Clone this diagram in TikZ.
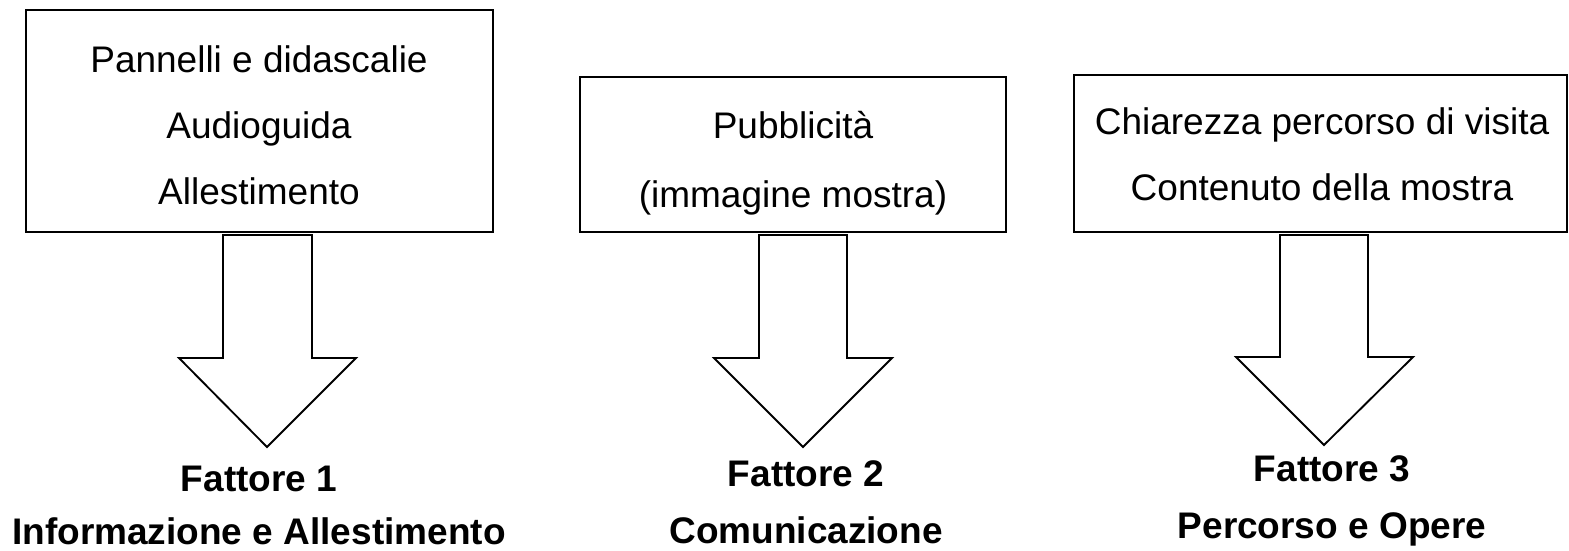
\documentclass[tikz,border=0pt]{standalone}
\usepackage{fontspec}
\setmainfont{Liberation Sans}
\usetikzlibrary{fit}
\tikzset{
  box/.style={draw=black, line width=1.4pt, inner sep=0pt},
  txt/.style={font=\fontsize{27.75}{33}\selectfont, anchor=base, inner sep=0pt},
  lbl/.style={font=\fontsize{27.75}{33}\selectfont\bfseries, anchor=base, inner sep=0pt},
  barrow/.style={draw=black, line width=1.4pt, fill=white, line join=miter}
}
\begin{document}
\begin{tikzpicture}[x=0.75pt, y=-0.75pt]
\useasboundingbox (0,0) rectangle (1569,550);
% boxes
\node[box, fit={(26,10) (493,232)}] (b1) {};
\node[box, fit={(580,77) (1006,232)}] (b2) {};
\node[box, fit={(1074,75) (1567,232)}] (b3) {};
% box texts
\node[txt] (t11) at (259,72) {Pannelli e didascalie};
\node[txt] (t12) at (259,138) {Audioguida};
\node[txt] (t13) at (259,204) {Allestimento};
\node[txt] (t21) at (793,138) {Pubblicità};
\node[txt] (t22) at (793,207) {(immagine mostra)};
\node[txt] (t31) at (1322,134) {Chiarezza percorso di visita};
\node[txt] (t32) at (1322,200) {Contenuto della mostra};
% block arrows
\draw[barrow] (223,235) -- (223,358) -- (179,358) -- (267,447) -- (356,358) -- (312,358) -- (312,235) -- cycle;
\draw[barrow] (759,235) -- (759,358) -- (714,358) -- (803,447) -- (892,358) -- (847,358) -- (847,235) -- cycle;
\draw[barrow] (1280,235) -- (1280,357) -- (1236,357) -- (1324,445) -- (1413,357) -- (1368,357) -- (1368,235) -- cycle;
% factor labels
\node[lbl] (f1) at (259,491) {Fattore 1};
\node[lbl] (g1) at (259,544) {Informazione e Allestimento};
\node[lbl] (f2) at (806,486) {Fattore 2};
\node[lbl] (g2) at (806,543) {Comunicazione};
\node[lbl] (f3) at (1332,481) {Fattore 3};
\node[lbl] (g3) at (1332,538) {Percorso e Opere};
\end{tikzpicture}
\end{document}
